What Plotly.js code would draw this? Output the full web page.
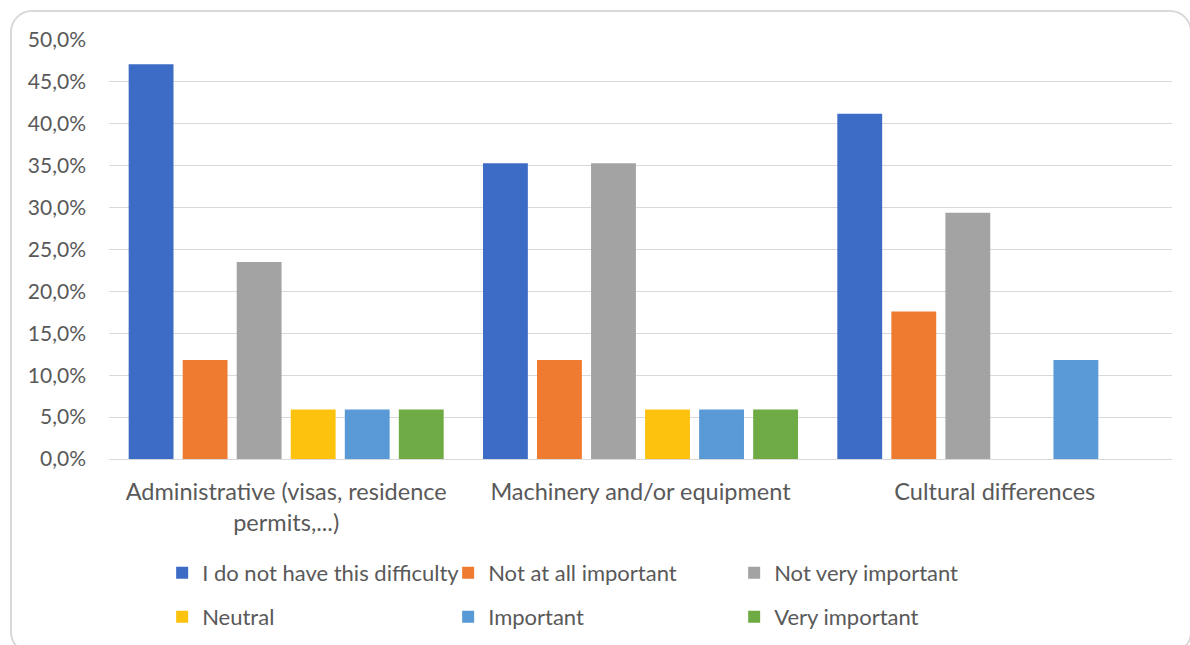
<!DOCTYPE html>
<html>
<head>
<meta charset="utf-8">
<script src="https://cdn.plot.ly/plotly-3.0.1.min.js"></script>
<style>
  html, body { margin: 0; padding: 0; background: #ffffff; }
  #chart { width: 1190px; height: 645px; position: absolute; left: 0; top: 0; }
  #frame { position: absolute; left: 10px; top: 10px; width: 1178px; height: 640px;
           border: 2px solid #d9d9d9; border-radius: 22px; pointer-events: none; }
</style>
</head>
<body>
<div id="chart"></div>
<div id="frame"></div>
<script>
const categories = [
  "Administrative (visas, residence<br>permits,...)",
  "Machinery and/or equipment",
  "Cultural differences"
];
const seriesNames = [
  "I do not have this difficulty",
  "Not at all important",
  "Not very important",
  "Neutral",
  "Important",
  "Very important"
];
const noDifficulty   = [0.471, 0.353, 0.412];
const notAtAll       = [0.118, 0.118, 0.176];
const notVery        = [0.235, 0.353, 0.294];
const neutral        = [0.059, 0.059, 0.0];
const important      = [0.059, 0.059, 0.118];
const veryImportant  = [0.059, 0.059, 0.0];
const yTickVals = [0, 0.05, 0.10, 0.15, 0.20, 0.25, 0.30, 0.35, 0.40, 0.45, 0.50];

const seriesValues = [noDifficulty, notAtAll, notVery, neutral, important, veryImportant];
const colors = ["#3d6cc6", "#ee7b30", "#a3a3a3", "#fdc20e", "#5899d6", "#6eab45"];
const legendIds = ["legend", "legend", "legend", "legend2", "legend2", "legend2"];

const font = "Lato, 'Open Sans', sans-serif";

const traces = seriesNames.map((name, i) => ({
  type: "bar",
  name: name,
  x: categories,
  y: seriesValues[i],
  marker: { color: colors[i], line: { width: 0 } },
  legend: legendIds[i],
  hoverinfo: "skip"
}));

const legendCommon = {
  orientation: "h",
  xanchor: "left",
  yanchor: "middle",
  x: 0.05,
  font: { family: font, size: 22, color: "#595959" },
  bgcolor: "rgba(0,0,0,0)",
  entrywidth: 241,
  entrywidthmode: "pixels",
  itemwidth: 30,
  traceorder: "normal"
};

const layout = {
  width: 1190,
  height: 645,
  margin: { l: 109, r: 18, t: 40, b: 186, autoexpand: false },
  paper_bgcolor: "rgba(0,0,0,0)",
  plot_bgcolor: "rgba(0,0,0,0)",
  separators: ",.",
  barmode: "group",
  bargap: 0.085,
  bargroupgap: 0.17,
  font: { family: font, color: "#595959" },
  xaxis: {
    showgrid: false,
    showline: true,
    linecolor: "#d9d9d9",
    linewidth: 1,
    ticks: "",
    ticklabelstandoff: 12,
    tickfont: { family: font, size: 23.5, color: "#595959" },
    fixedrange: true
  },
  yaxis: {
    range: [0, 0.5],
    tickvals: yTickVals,
    tickformat: ".1%",
    showgrid: true,
    gridcolor: "#d9d9d9",
    gridwidth: 1,
    zeroline: false,
    showline: false,
    ticks: "",
    ticklabelstandoff: 22,
    tickfont: { family: font, size: 21, color: "#595959" },
    fixedrange: true
  },
  legend: Object.assign({}, legendCommon, { y: -0.272 }),
  legend2: Object.assign({}, legendCommon, { y: -0.377 }),
  showlegend: true
};

Plotly.newPlot("chart", traces, layout, { displayModeBar: false, staticPlot: true });
</script>
</body>
</html>
